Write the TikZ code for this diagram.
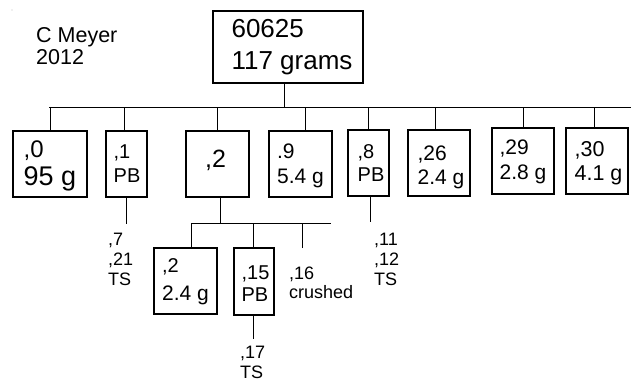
\documentclass[tikz,border=0pt]{standalone}
\usepackage{fontspec}
\setmainfont{Liberation Sans}
\begin{document}
\begin{tikzpicture}[x=1pt,y=-1pt,
  box/.style={draw, line width=1.1pt, inner sep=0pt},
  txt/.style={inner sep=0pt, align=left},
  lbl/.style={inner sep=0pt, align=left, anchor=base west},
  conn/.style={line width=1pt}
]
\useasboundingbox (0,0) rectangle (631,383);
\fill[gray!50] (12,10) circle (0.7);

% author
\node[lbl, font=\fontsize{21.5}{22}\selectfont] (author) at (36,64) {C Meyer\\2012};

% root
\node[box, minimum width=150, minimum height=72,
  label={[txt, name=toptxt, font=\fontsize{26}{31.5}\selectfont, xshift=4pt]center:{60625\\117 grams}}] (top) at (288,47) {};

% first level
\node[box, minimum width=74, minimum height=66,
  label={[txt, font=\fontsize{24}{28}\selectfont, yshift=-2pt]center:{,0\\\fontsize{27}{28}\selectfont 95 g}}] (n0) at (50,164) {};
\node[box, minimum width=41, minimum height=66,
  label={[txt, font=\fontsize{20}{24}\selectfont, xshift=0.5pt]center:{,1\\PB}}] (n1) at (126.5,164) {};
\node[box, minimum width=63, minimum height=66,
  label={[txt, font=\fontsize{25}{26}\selectfont, xshift=-2pt, yshift=4pt]center:{,2}}] (n2) at (217.5,164) {};
\node[box, minimum width=63, minimum height=66,
  label={[txt, font=\fontsize{21}{25}\selectfont, yshift=-2pt]center:{.9\\5.4 g}}] (n9) at (300.5,164) {};
\node[box, minimum width=41, minimum height=66,
  label={[txt, font=\fontsize{20}{22.7}\selectfont, xshift=2.5pt]center:{,8\\PB}}] (n8) at (368.5,163) {};
\node[box, minimum width=62, minimum height=66,
  label={[txt, font=\fontsize{21}{24.3}\selectfont, xshift=2pt, yshift=-4.5pt]center:{,26\\2.4 g}}] (n26) at (439,163) {};
\node[box, minimum width=62, minimum height=66,
  label={[txt, font=\fontsize{21}{25}\selectfont, yshift=-1pt]center:{,29\\2.8 g}}] (n29) at (523,161) {};
\node[box, minimum width=62, minimum height=66,
  label={[txt, font=\fontsize{21.5}{24.3}\selectfont, xshift=1.5pt, yshift=-2.5pt]center:{,30\\4.1 g}}] (n30) at (597,161) {};

% second level
\node[box, minimum width=63, minimum height=66,
  label={[txt, font=\fontsize{20}{28.3}\selectfont, yshift=-1pt]center:{,2\\\fontsize{21}{28.3}\selectfont 2.4 g}}] (s2) at (185.5,281) {};
\node[box, minimum width=40, minimum height=67,
  label={[txt, font=\fontsize{20}{22.4}\selectfont, xshift=1.5pt, yshift=-2pt]center:{,15\\PB}}] (s15) at (254,281.5) {};

% free labels
\node[lbl, font=\fontsize{18}{20}\selectfont] (l7) at (108,285) {,7\\,21\\TS};
\node[lbl, font=\fontsize{18}{20}\selectfont] (l11) at (374,285) {,11\\,12\\TS};
\node[lbl, font=\fontsize{18}{19}\selectfont] (l16) at (289,298) {,16\\crushed};
\node[lbl, font=\fontsize{18}{20}\selectfont] (l17) at (240,378) {,17\\TS};

% buses
\coordinate (busL) at (49,107);
\coordinate (busR) at (631,107);
\coordinate (subL) at (191,223);
\coordinate (subR) at (331,223);
\coordinate (c16) at (302,248);

\draw[conn] (busL) -- (busR);
\draw[conn] ([xshift=-4pt]top.south) -- ([xshift=-4pt]top.south |- busL);
\draw[conn] (n0.north) -- (n0.north |- busL);
\draw[conn] ([xshift=-2pt]n1.north) -- ([xshift=-2pt]n1.north |- busL);
\draw[conn] (n2.north) -- (n2.north |- busL);
\draw[conn] ([xshift=5pt]n9.north) -- ([xshift=5pt]n9.north |- busL);
\draw[conn] (n8.north) -- (n8.north |- busL);
\draw[conn] ([xshift=-4pt]n26.north) -- ([xshift=-4pt]n26.north |- busL);
\draw[conn] (n29.north) -- (n29.north |- busL);
\draw[conn] ([xshift=-3pt]n30.north) -- ([xshift=-3pt]n30.north |- busL);

% lower stems
\draw[conn] (n1.south) -- ++(0,26);
\draw[conn] ([xshift=1.5pt]n8.south) -- ++(0,25);
\draw[conn] ([xshift=2.5pt]n2.south) -- ([xshift=2.5pt]n2.south |- subL);
\draw[conn] (subL) -- (subR);
\draw[conn] ([xshift=5.5pt]s2.north) -- (subL);
\draw[conn] ([xshift=-1pt]s15.north) -- ([xshift=-1pt]s15.north |- subL);
\draw[conn] (c16) -- (c16 |- subL);
\draw[conn] ([xshift=-1pt]s15.south) -- ++(0,23);
\end{tikzpicture}
\end{document}
